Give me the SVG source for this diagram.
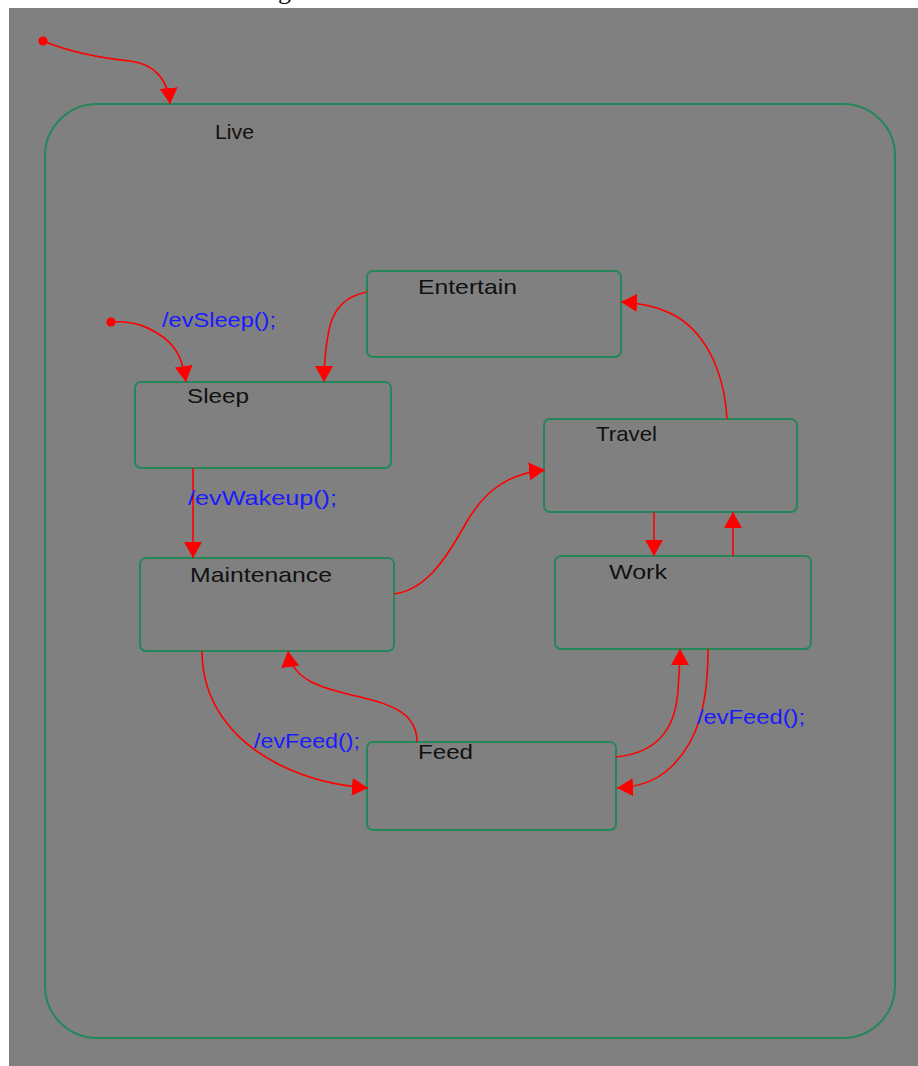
<svg xmlns="http://www.w3.org/2000/svg" width="918" height="1066" viewBox="0 0 918 1066">
  <style>
    .state { fill: none; stroke: #23875a; stroke-width: 2; }
    .name { font-family: "Liberation Sans", Arial, sans-serif; font-size: 21px; fill: #111111; }
    .event { font-family: "Liberation Sans", Arial, sans-serif; font-size: 21px; fill: #1a1aff; }
    .edge { fill: none; stroke: #ff0000; stroke-width: 1.6; }
  </style>
  <defs>
    <marker id="arrow" viewBox="0 0 16 18" refX="16" refY="9" markerWidth="16" markerHeight="18" markerUnits="userSpaceOnUse" orient="auto">
      <path d="M0,0 L16,9 L0,18 z" fill="#ff0000"/>
    </marker>
    <marker id="dot" viewBox="0 0 10 10" refX="5" refY="5" markerWidth="10" markerHeight="10" markerUnits="userSpaceOnUse">
      <circle cx="5" cy="5" r="4.6" fill="#ff0000"/>
    </marker>
  </defs>

  <!-- page -->
  <rect x="0" y="0" width="918" height="1066" fill="#ffffff"/>
  <text x="278" y="-1" font-family="Liberation Serif, serif" font-size="26" fill="#111111">g</text>
  <rect x="9" y="8" width="909" height="1058" fill="#808080"/>

  <!-- composite state -->
  <g id="live">
    <rect class="state" x="45" y="104" width="850" height="934" rx="52" ry="52"/>
    <text class="name" x="215" y="139" textLength="39" lengthAdjust="spacingAndGlyphs">Live</text>
  </g>

  <g id="entertain">
    <rect class="state" x="367" y="271" width="254" height="86" rx="6" ry="6"/>
    <text class="name" x="418" y="294" textLength="99" lengthAdjust="spacingAndGlyphs">Entertain</text>
  </g>

  <g id="sleep">
    <rect class="state" x="135" y="382" width="256" height="86" rx="6" ry="6"/>
    <text class="name" x="187" y="403" textLength="62" lengthAdjust="spacingAndGlyphs">Sleep</text>
  </g>

  <g id="travel">
    <rect class="state" x="544" y="419" width="253" height="93" rx="6" ry="6"/>
    <text class="name" x="596" y="441" textLength="61" lengthAdjust="spacingAndGlyphs">Travel</text>
  </g>

  <g id="maintenance">
    <rect class="state" x="140" y="558" width="254" height="93" rx="6" ry="6"/>
    <text class="name" x="190" y="582" textLength="142" lengthAdjust="spacingAndGlyphs">Maintenance</text>
  </g>

  <g id="work">
    <rect class="state" x="555" y="556" width="256" height="93" rx="6" ry="6"/>
    <text class="name" x="609" y="579" textLength="58" lengthAdjust="spacingAndGlyphs">Work</text>
  </g>

  <g id="feed">
    <rect class="state" x="367" y="742" width="249" height="88" rx="6" ry="6"/>
    <text class="name" x="418" y="759" textLength="55" lengthAdjust="spacingAndGlyphs">Feed</text>
  </g>

  <!-- transitions -->
  <g id="connectors">
    <!-- top-level initial -> Live -->
    <path class="edge" marker-start="url(#dot)" marker-end="url(#arrow)" d="M43,41 C70,52 100,58 130,61 C155,64 168,80 170,104"/>
    <!-- inner initial -> Sleep -->
    <path class="edge" marker-start="url(#dot)" marker-end="url(#arrow)" d="M111,322 C135,320 150,328 163,337 C178,348 183,362 186,382"/>
    <text class="event" x="162" y="327" textLength="114" lengthAdjust="spacingAndGlyphs">/evSleep();</text>
    <!-- Entertain -> Sleep -->
    <path class="edge" marker-end="url(#arrow)" d="M367,292 C345,296 333,310 329,330 C326,345 324,360 324,382"/>
    <!-- Sleep -> Maintenance -->
    <path class="edge" marker-end="url(#arrow)" d="M193,468 L193,558"/>
    <text class="event" x="188" y="505" textLength="149" lengthAdjust="spacingAndGlyphs">/evWakeup();</text>
    <!-- Maintenance -> Travel -->
    <path class="edge" marker-end="url(#arrow)" d="M394,594 C425,590 445,560 462,530 C478,500 500,474 545,470"/>
    <!-- Travel -> Entertain -->
    <path class="edge" marker-end="url(#arrow)" d="M727,419 C724,370 705,330 670,313 C655,306 640,303 621,302"/>
    <!-- Travel -> Work -->
    <path class="edge" marker-end="url(#arrow)" d="M654,512 L654,556"/>
    <!-- Work -> Travel -->
    <path class="edge" marker-end="url(#arrow)" d="M733,556 L733,512"/>
    <!-- Maintenance -> Feed -->
    <path class="edge" marker-end="url(#arrow)" d="M202,651 C202,700 230,740 280,765 C310,780 340,786 368,788"/>
    <text class="event" x="254" y="748" textLength="106" lengthAdjust="spacingAndGlyphs">/evFeed();</text>
    <!-- Feed -> Maintenance -->
    <path class="edge" marker-end="url(#arrow)" d="M417,742 C417,715 395,705 360,697 C320,688 292,680 288,651"/>
    <!-- Feed -> Work -->
    <path class="edge" marker-end="url(#arrow)" d="M616,757 C665,752 676,720 678,690 C679,675 680,662 680,649"/>
    <!-- Work -> Feed -->
    <path class="edge" marker-end="url(#arrow)" d="M708,649 C708,700 700,740 670,768 C655,782 638,787 617,788"/>
    <text class="event" x="697" y="724" textLength="108" lengthAdjust="spacingAndGlyphs">/evFeed();</text>
  </g>
</svg>
